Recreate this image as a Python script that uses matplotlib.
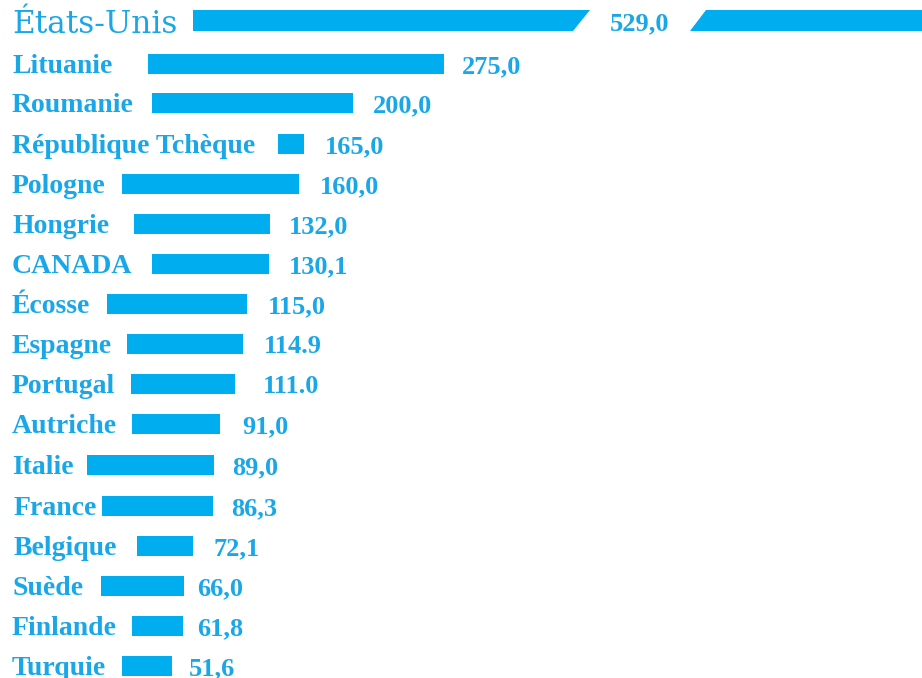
import matplotlib
matplotlib.use("Agg")
import matplotlib.pyplot as plt
import numpy as np

# data
countries = ["États-Unis", "Lituanie", "Roumanie", "République Tchèque", "Pologne",
             "Hongrie", "CANADA", "Écosse", "Espagne", "Portugal", "Autriche",
             "Italie", "France", "Belgique", "Suède", "Finlande", "Turquie"]
values = ["529,0", "275,0", "200,0", "165,0", "160,0", "132,0", "130,1", "115,0",
          "114.9", "111.0", "91,0", "89,0", "86,3", "72,1", "66,0", "61,8", "51,6"]
# drawn bar extents (the infographic bars are not to scale)
bar_start = [193, 148, 152, 278, 122, 134, 152, 107, 127, 131, 132, 87, 102, 137, 101, 132, 122]
bar_end = [590, 444, 353, 304, 299, 270, 269, 247, 243, 235, 220, 214, 213, 193, 184, 183, 172]
value_x = [610, 462, 373, 325, 320, 289, 289, 268, 264, 263, 242, 232, 231, 213, 197, 197, 189]
row_y = [21, 64, 103, 144, 184, 224, 264, 304, 344, 384, 424, 465, 506, 546, 586, 626, 666]
label_x = [12, 12, 12, 12, 12, 12, 12, 12, 12, 12, 12, 12, 14, 14, 12, 12, 12]

BAR = "#00AEEF"
TXT = "#1AA7E8"

fig = plt.figure(figsize=(9.22, 6.78), dpi=100)
ax = fig.add_axes([0, 0, 1, 1])
ax.set_xlim(0, 922)
ax.set_ylim(678, 0)
ax.axis("off")

h = 20
for i in range(len(countries)):
    y = row_y[i]
    if i == 0:
        # broken bar with slanted ends
        s, e = bar_start[i], bar_end[i]
        ax.fill([s, e, e - 17, s], [y - h / 2 - 1, y - h / 2 - 1, y + h / 2, y + h / 2],
                color=BAR, lw=0)
        ax.fill([706, 922, 922, 690], [y - h / 2 - 1, y - h / 2 - 1, y + h / 2, y + h / 2],
                color=BAR, lw=0)
        ax.text(label_x[i], y + 12, countries[i], ha="left", va="baseline",
                fontsize=22.5, family="DejaVu Serif", color=TXT)
    else:
        ax.barh(y, bar_end[i] - bar_start[i], left=bar_start[i], height=h,
                color=BAR, lw=0)
        ax.text(label_x[i], y + 9, countries[i], ha="left", va="baseline",
                fontsize=20, family="Liberation Serif", fontweight="bold", color=TXT)
    ax.text(value_x[i], y + 9, values[i], ha="left", va="baseline",
            fontsize=19, family="Liberation Serif", fontweight="bold", color=TXT)

fig.savefig("out.png", dpi=100)
